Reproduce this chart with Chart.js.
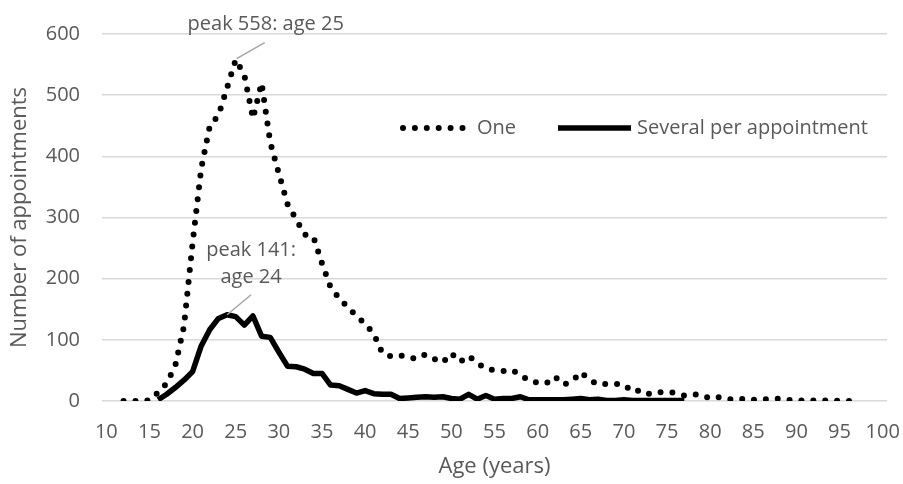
<!DOCTYPE html>
<html>
<head>
<meta charset="utf-8">
<script src="https://cdn.jsdelivr.net/npm/chart.js@4.4.1/dist/chart.umd.min.js"></script>
<style>
  html, body { margin: 0; padding: 0; background: #fff; }
  #wrap { width: 903px; height: 484px; }
</style>
</head>
<body>
<div id="wrap"><canvas id="chart" width="903" height="484"></canvas></div>
<script>
// Ages (years) and number of appointments per series
const oneAges = [12, 13, 14, 15, 16, 17, 18, 19, 20, 21, 22, 23, 24, 25, 26, 27, 28, 29, 30,
  31, 32, 33, 34, 35, 36, 37, 38, 39, 40, 41, 42, 43, 44, 45, 46, 47, 48, 49, 50,
  51, 52, 53, 54, 55, 56, 57, 58, 59, 60, 61, 62, 63, 64, 65, 66, 67, 68, 69, 70,
  71, 72, 73, 74, 75, 76, 77, 78, 79, 80, 81, 82, 83, 84, 85, 86, 87, 88, 89, 90,
  91, 92, 93, 94, 95, 96, 97];
const oneCounts = [0, 0, 0, 1, 14, 29, 58, 122, 258, 380, 450, 467, 512, 558, 533, 462, 520, 423, 372,
  322, 297, 272, 269, 225, 186, 168, 153, 139, 126, 110, 78, 73, 75, 71, 69, 76, 69, 63, 78,
  64, 74, 62, 53, 50, 49, 51, 43, 33, 30, 29, 40, 27, 32, 47, 35, 27, 28, 28, 27,
  15, 18, 11, 14, 15, 13, 9, 11, 10, 4, 6, 3, 2, 4, 2, 3, 3, 4, 2, 1,
  1, 1, 1, 1, 0, 0, 0];

const severalAges = [16, 17, 18, 19, 20, 21, 22, 23, 24, 25, 26, 27, 28, 29, 30,
  31, 32, 33, 34, 35, 36, 37, 38, 39, 40, 41, 42, 43, 44, 45, 46, 47, 48, 49, 50,
  51, 52, 53, 54, 55, 56, 57, 58, 59, 60, 61, 62, 63, 64, 65, 66, 67, 68, 69, 70,
  71, 72, 73, 74, 75, 76, 77];
const severalCounts = [2, 11, 22, 34, 48, 90, 117, 135, 141, 138, 124, 139, 106, 104, 80,
  57, 56, 52, 45, 45, 26, 25, 19, 13, 17, 12, 11, 11, 4, 5, 6, 7, 6, 7, 4,
  3, 11, 3, 9, 3, 4, 4, 7, 2, 2, 2, 2, 2, 3, 4, 2, 3, 1, 1, 2,
  1, 1, 1, 1, 1, 1, 1];

const seriesLabels = ['One', 'Several per appointment'];
const ageTicks = [10, 15, 20, 25, 30, 35, 40, 45, 50, 55, 60, 65, 70, 75, 80, 85, 90, 95, 100];

const textColor = '#595959';
const gridColor = '#d9d9d9';
const leaderColor = '#a6a6a6';
const fontFamily = '"Open Sans", Lato, sans-serif';
const tickSize = 20;
const titleSize = 22;
const noteSize = 20;
const dotDash = [0, 11.9];

function toPoints(ages, counts) {
    return ages.map((a, i) => ({ x: a, y: counts[i] }));
}

// Peak labels and legend drawn over the plot
const overlay = {
    id: 'overlay',
    afterDatasetsDraw(chart) {
        const { ctx, chartArea, scales: { x, y } } = chart;
        ctx.save();
        ctx.font = noteSize + 'px ' + fontFamily;
        ctx.fillStyle = textColor;
        ctx.textAlign = 'center';
        ctx.textBaseline = 'middle';

        // peak of "One"
        let i1 = oneCounts.indexOf(Math.max(...oneCounts));
        let px = x.getPixelForValue(oneAges[i1]);
        let py = y.getPixelForValue(oneCounts[i1]);
        ctx.strokeStyle = leaderColor;
        ctx.lineWidth = 1.5;
        ctx.beginPath();
        ctx.moveTo(px + 1, py - 1);
        ctx.lineTo(px + 29, py - 17);
        ctx.stroke();
        ctx.fillText('peak ' + oneCounts[i1] + ': age ' + oneAges[i1], px + 30, py - 35);

        // peak of "Several"
        let i2 = severalCounts.indexOf(Math.max(...severalCounts));
        px = x.getPixelForValue(severalAges[i2]);
        py = y.getPixelForValue(severalCounts[i2]);
        ctx.beginPath();
        ctx.moveTo(px, py);
        ctx.lineTo(px + 24, py - 20);
        ctx.stroke();
        ctx.fillText('peak ' + severalCounts[i2] + ':', px + 24, py - 64);
        ctx.fillText('age ' + severalAges[i2], px + 24, py - 37);

        // legend
        const ly = chartArea.top + 94;
        const lx = chartArea.left + 301;
        ctx.strokeStyle = '#000';
        ctx.lineCap = 'round';
        ctx.lineWidth = 6;
        ctx.setLineDash(dotDash);
        ctx.beginPath();
        ctx.moveTo(lx, ly);
        ctx.lineTo(lx + 64, ly);
        ctx.stroke();
        ctx.setLineDash([]);
        ctx.lineCap = 'butt';
        ctx.lineWidth = 5.5;
        ctx.beginPath();
        ctx.moveTo(lx + 155, ly);
        ctx.lineTo(lx + 228, ly);
        ctx.stroke();
        ctx.textAlign = 'left';
        ctx.fillText(seriesLabels[0], lx + 74, ly);
        ctx.fillText(seriesLabels[1], lx + 234, ly);
        ctx.restore();
    }
};

const chart = new Chart(document.getElementById('chart').getContext('2d'), {
    type: 'line',
    data: {
        datasets: [
            {
                label: seriesLabels[0],
                data: toPoints(oneAges, oneCounts),
                borderColor: '#000',
                borderWidth: 6,
                borderDash: dotDash,
                borderCapStyle: 'round',
                borderJoinStyle: 'round',
                pointRadius: 0,
                tension: 0,
                fill: false
            },
            {
                label: seriesLabels[1],
                data: toPoints(severalAges, severalCounts),
                borderColor: '#000',
                borderWidth: 5.5,
                borderCapStyle: 'butt',
                borderJoinStyle: 'round',
                pointRadius: 0,
                tension: 0,
                fill: false
            }
        ]
    },
    options: {
        responsive: false,
        animation: false,
        devicePixelRatio: 1,
        layout: { padding: { top: 34, right: 16, left: 0, bottom: 0 } },
        plugins: {
            legend: { display: false },
            tooltip: { enabled: false }
        },
        scales: {
            x: {
                type: 'linear',
                min: 9.5,
                max: 100.5,
                afterBuildTicks: (scale) => {
                    scale.ticks = ageTicks.map(v => ({ value: v }));
                },
                afterFit: (scale) => {
                    scale.height = 83;
                    scale.paddingLeft = 0;
                    scale.paddingRight = 0;
                },
                grid: { display: false, drawTicks: false },
                border: { display: false },
                ticks: {
                    autoSkip: false,
                    maxRotation: 0,
                    color: textColor,
                    padding: 19,
                    font: { family: fontFamily, size: tickSize }
                },
                title: {
                    display: true,
                    text: 'Age (years)',
                    color: textColor,
                    padding: { top: 0, bottom: 4 },
                    font: { family: fontFamily, size: titleSize }
                }
            },
            y: {
                min: 0,
                max: 600,
                afterFit: (scale) => {
                    scale.width = 102;
                    scale.paddingTop = 0;
                    scale.paddingBottom = 0;
                },
                grid: { color: gridColor, lineWidth: 1.5, drawTicks: false },
                border: { display: false },
                ticks: {
                    stepSize: 100,
                    color: textColor,
                    padding: 22,
                    font: { family: fontFamily, size: tickSize }
                },
                title: {
                    display: true,
                    text: 'Number of appointments',
                    color: textColor,
                    padding: { top: 7, bottom: 0 },
                    font: { family: fontFamily, size: titleSize }
                }
            }
        }
    },
    plugins: [overlay]
});
</script>
</body>
</html>
